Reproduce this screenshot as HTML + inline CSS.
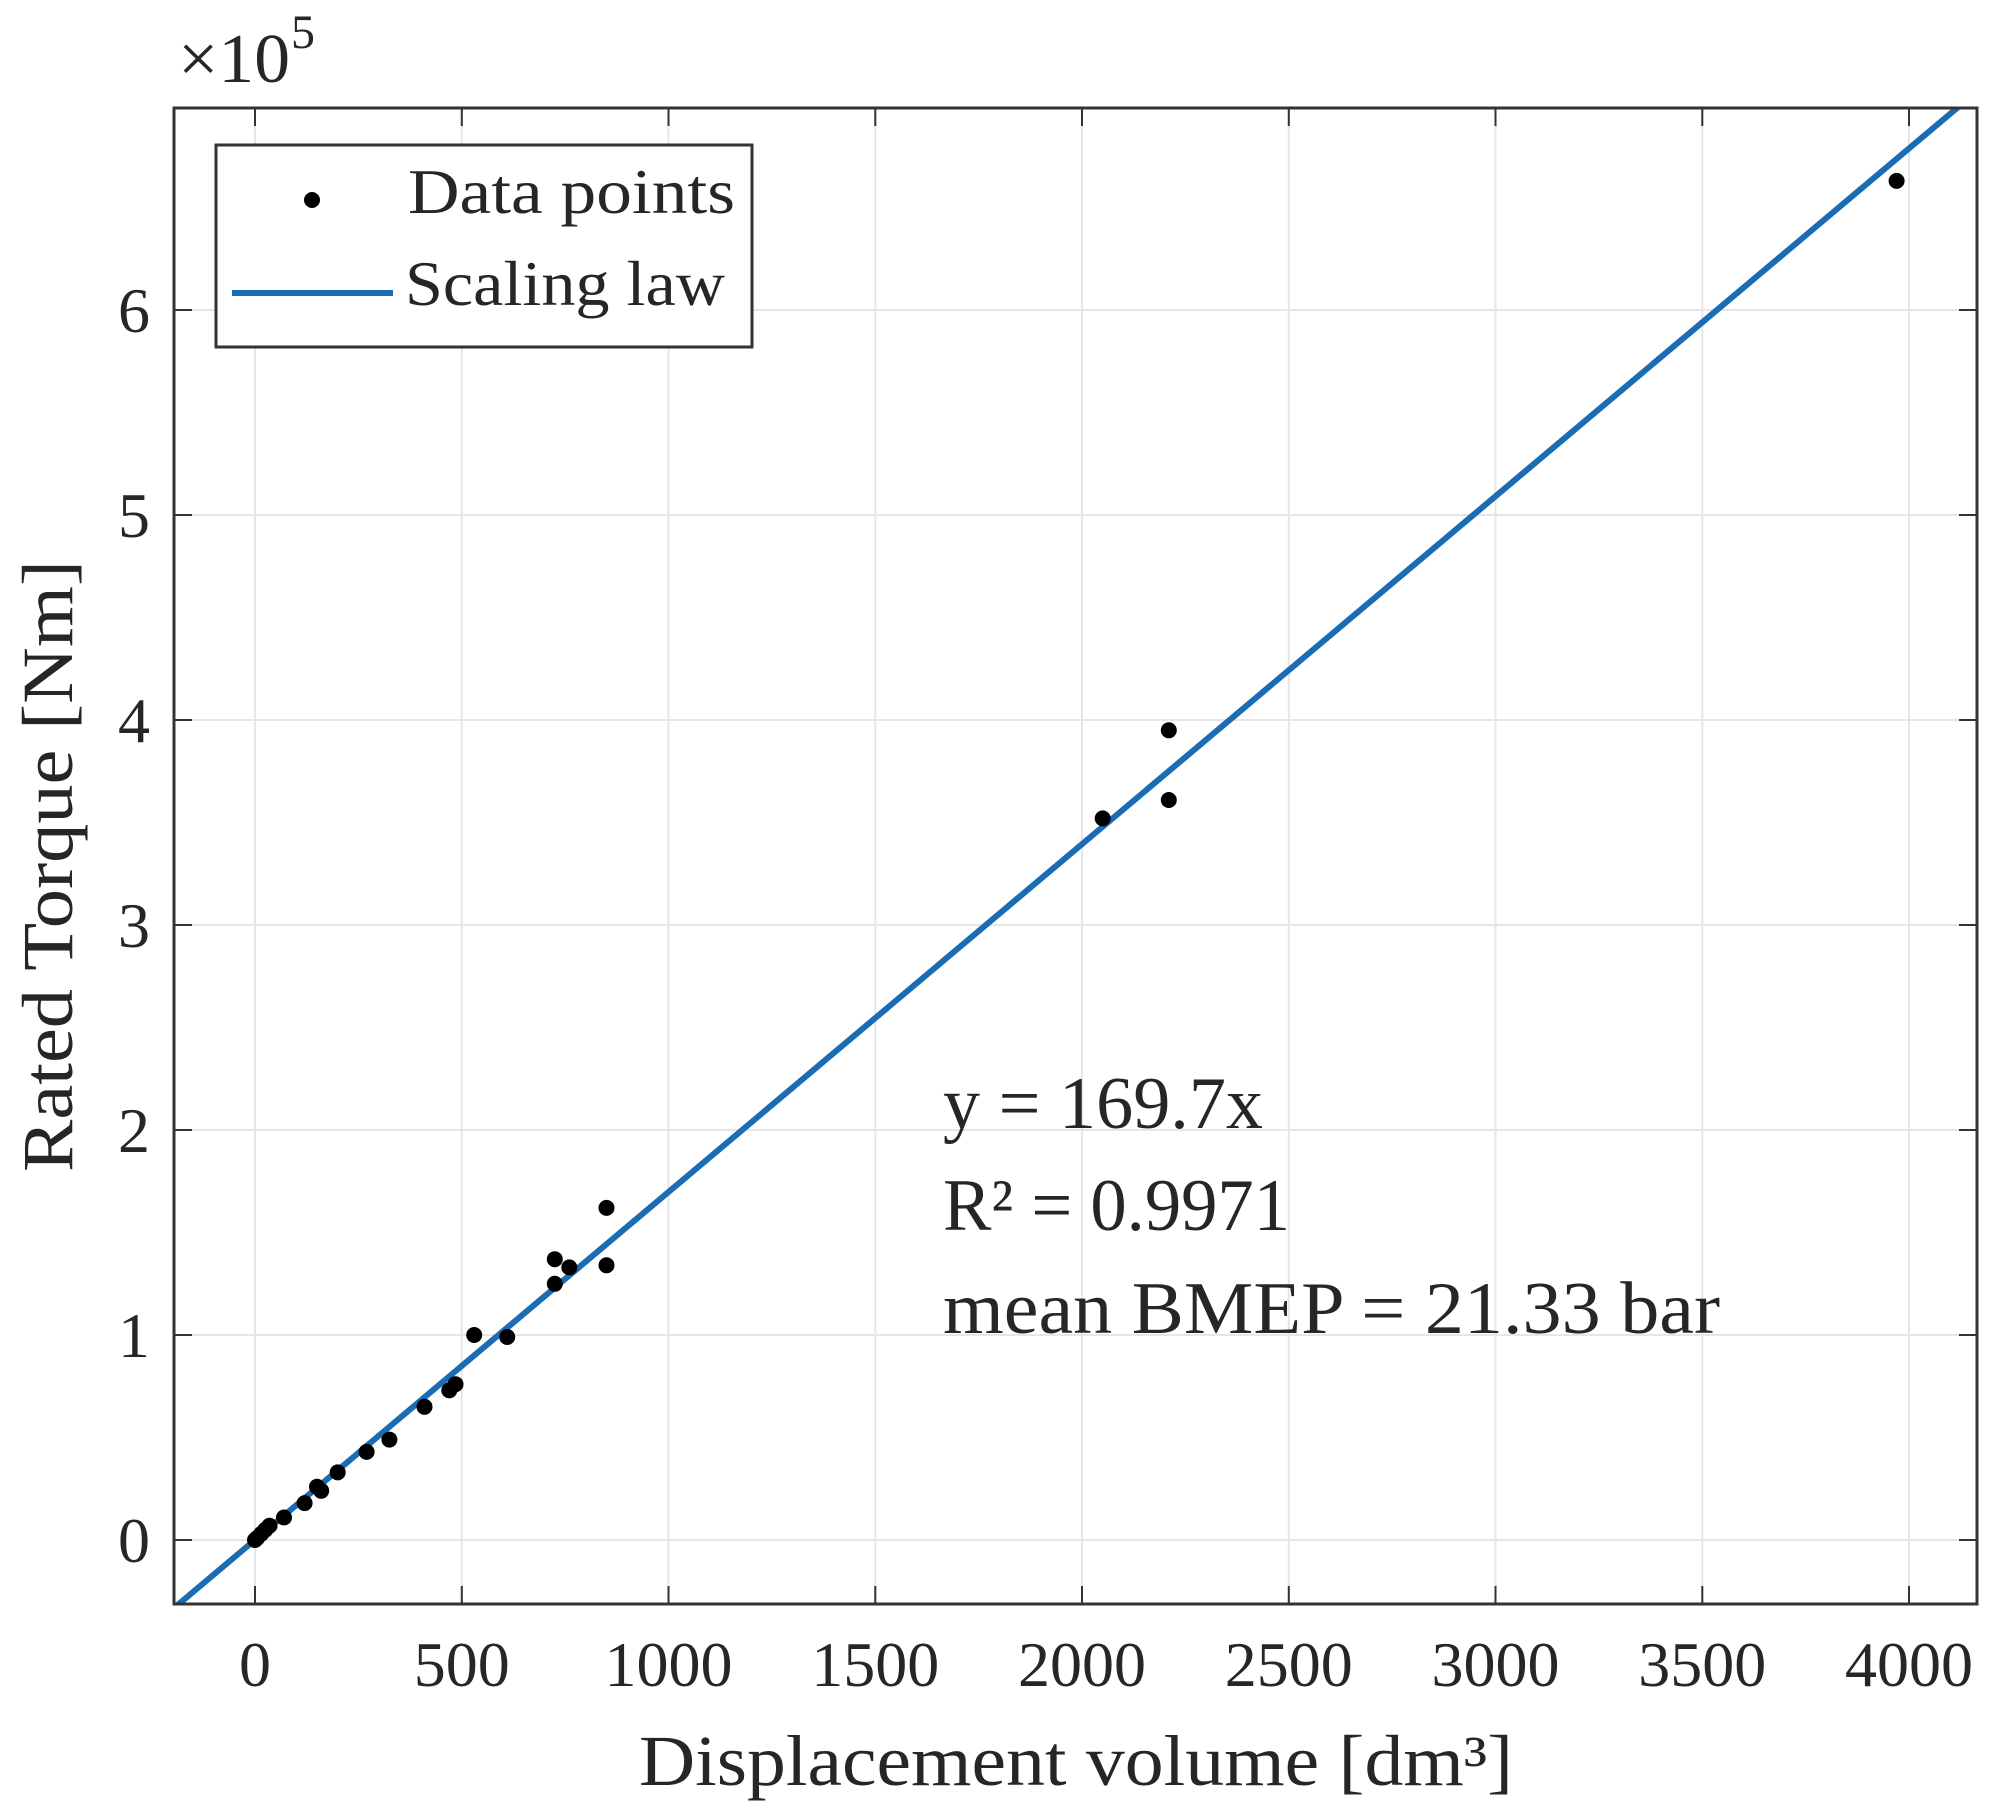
<!DOCTYPE html>
<html><head><meta charset="utf-8"><style>html,body{margin:0;padding:0;background:#fff}svg{display:block}</style></head>
<body>
<svg width="2004" height="1818" viewBox="0 0 2004 1818" xmlns="http://www.w3.org/2000/svg" font-family="'Liberation Serif', serif" fill="#262626">
<rect width="2004" height="1818" fill="#fff"/>
<defs><clipPath id="c"><rect x="174" y="108" width="1803" height="1496"/></clipPath></defs>
<g stroke="#e6e6e6" stroke-width="2">
<line x1="255" y1="108" x2="255" y2="1604"/><line x1="461.8" y1="108" x2="461.8" y2="1604"/><line x1="668.5" y1="108" x2="668.5" y2="1604"/><line x1="875.3" y1="108" x2="875.3" y2="1604"/><line x1="1082" y1="108" x2="1082" y2="1604"/><line x1="1288.8" y1="108" x2="1288.8" y2="1604"/><line x1="1495.5" y1="108" x2="1495.5" y2="1604"/><line x1="1702.3" y1="108" x2="1702.3" y2="1604"/><line x1="1909" y1="108" x2="1909" y2="1604"/>
<line x1="174" y1="1540" x2="1977" y2="1540"/><line x1="174" y1="1335" x2="1977" y2="1335"/><line x1="174" y1="1130" x2="1977" y2="1130"/><line x1="174" y1="925" x2="1977" y2="925"/><line x1="174" y1="720" x2="1977" y2="720"/><line x1="174" y1="515" x2="1977" y2="515"/><line x1="174" y1="310" x2="1977" y2="310"/>
</g>
<g stroke="#333" stroke-width="2">
<path d="M255 1604v-18M461.8 1604v-18M668.5 1604v-18M875.3 1604v-18M1082 1604v-18M1288.8 1604v-18M1495.5 1604v-18M1702.3 1604v-18M1909 1604v-18"/>
<path d="M255 108v18M461.8 108v18M668.5 108v18M875.3 108v18M1082 108v18M1288.8 108v18M1495.5 108v18M1702.3 108v18M1909 108v18"/>
<path d="M174 1540h18M174 1335h18M174 1130h18M174 925h18M174 720h18M174 515h18M174 310h18"/>
<path d="M1977 1540h-18M1977 1335h-18M1977 1130h-18M1977 925h-18M1977 720h-18M1977 515h-18M1977 310h-18"/>
</g>
<g clip-path="url(#c)">
<line x1="174" y1="1608" x2="1979.3" y2="89.3" stroke="#1a6db5" stroke-width="6"/>
</g>
<g fill="#000">
<circle cx="1896.6" cy="180.9" r="8"/><circle cx="1168.8" cy="730.3" r="8"/><circle cx="1168.8" cy="800" r="8"/><circle cx="1102.7" cy="818.4" r="8"/>
<circle cx="606.5" cy="1207.9" r="8"/><circle cx="606.5" cy="1265.3" r="8"/><circle cx="554.8" cy="1259.2" r="8"/><circle cx="554.8" cy="1283.8" r="8"/><circle cx="569.3" cy="1267.4" r="8"/>
<circle cx="507.2" cy="1337" r="8"/><circle cx="474.2" cy="1335" r="8"/><circle cx="455.5" cy="1384.2" r="8"/><circle cx="449.3" cy="1390.4" r="8"/><circle cx="424.5" cy="1406.8" r="8"/>
<circle cx="389.4" cy="1439.6" r="8"/><circle cx="366.6" cy="1451.9" r="8"/><circle cx="337.7" cy="1472.4" r="8"/><circle cx="321.2" cy="1490.8" r="8"/><circle cx="317" cy="1486.7" r="8"/>
<circle cx="304.6" cy="1503.1" r="8"/><circle cx="284" cy="1517.5" r="8"/><circle cx="269.5" cy="1525.7" r="8"/><circle cx="265.3" cy="1529.8" r="8"/><circle cx="261.2" cy="1533.9" r="8"/><circle cx="257.1" cy="1538" r="8"/><circle cx="255" cy="1540" r="8"/>
</g>
<rect x="174" y="108" width="1803" height="1496" fill="none" stroke="#333" stroke-width="3"/>
<g font-size="64" text-anchor="middle">
<text x="255" y="1686">0</text><text x="461.8" y="1686">500</text><text x="668.5" y="1686">1000</text><text x="875.3" y="1686">1500</text><text x="1082" y="1686">2000</text><text x="1288.8" y="1686">2500</text><text x="1495.5" y="1686">3000</text><text x="1702.3" y="1686">3500</text><text x="1909" y="1686">4000</text>
</g>
<g font-size="64" text-anchor="end">
<text x="150" y="1562">0</text><text x="150" y="1357">1</text><text x="150" y="1152">2</text><text x="150" y="947">3</text><text x="150" y="742">4</text><text x="150" y="537">5</text><text x="150" y="332">6</text>
</g>
<text x="178" y="82" font-size="70" textLength="112" lengthAdjust="spacingAndGlyphs">×10</text><text x="291" y="48" font-size="48">5</text>
<text x="639" y="1785" font-size="72" textLength="874" lengthAdjust="spacingAndGlyphs">Displacement volume [dm³]</text>
<text transform="translate(72,866) rotate(-90)" font-size="72" text-anchor="middle" textLength="612" lengthAdjust="spacingAndGlyphs">Rated Torque [Nm]</text>
<rect x="216" y="145" width="536" height="202" fill="#fff" stroke="#333" stroke-width="3"/>
<circle cx="312" cy="200" r="8" fill="#000"/>
<line x1="232" y1="293" x2="393" y2="293" stroke="#1a6db5" stroke-width="6"/>
<text x="408" y="213" font-size="64" textLength="327" lengthAdjust="spacingAndGlyphs">Data points</text>
<text x="405" y="305" font-size="64" textLength="320" lengthAdjust="spacingAndGlyphs">Scaling law</text>
<g font-size="74">
<text x="943" y="1128" textLength="320" lengthAdjust="spacingAndGlyphs">y = 169.7x</text>
<text x="943" y="1230" textLength="347" lengthAdjust="spacingAndGlyphs">R² = 0.9971</text>
<text x="943" y="1333" textLength="777" lengthAdjust="spacingAndGlyphs">mean BMEP = 21.33 bar</text>
</g>
</svg>
</body></html>
